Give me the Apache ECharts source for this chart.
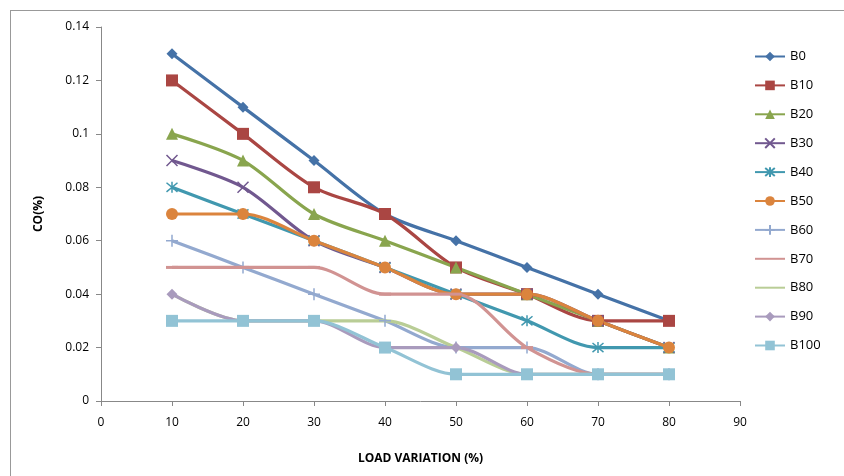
<!DOCTYPE html>
<html>
<head>
<meta charset="utf-8">
<script src="https://cdn.jsdelivr.net/npm/echarts@6/dist/echarts.min.js"></script>
<style>html,body{margin:0;padding:0;background:#fff}#c{width:844px;height:476px}</style>
</head>
<body>
<div id="c"></div>
<script>
var loads = [10, 20, 30, 40, 50, 60, 70, 80];
var seriesNames = ['B0','B10','B20','B30','B40','B50','B60','B70','B80','B90','B100'];
var B0   = [0.13, 0.11, 0.09, 0.07, 0.06, 0.05, 0.04, 0.03];
var B10  = [0.12, 0.10, 0.08, 0.07, 0.05, 0.04, 0.03, 0.03];
var B20  = [0.10, 0.09, 0.07, 0.06, 0.05, 0.04, 0.03, 0.02];
var B30  = [0.09, 0.08, 0.06, 0.05, 0.04, 0.04, 0.03, 0.02];
var B40  = [0.08, 0.07, 0.06, 0.05, 0.04, 0.03, 0.02, 0.02];
var B50  = [0.07, 0.07, 0.06, 0.05, 0.04, 0.04, 0.03, 0.02];
var B60  = [0.06, 0.05, 0.04, 0.03, 0.02, 0.02, 0.01, 0.01];
var B70  = [0.05, 0.05, 0.05, 0.04, 0.04, 0.02, 0.01, 0.01];
var B80  = [0.04, 0.03, 0.03, 0.03, 0.02, 0.01, 0.01, 0.01];
var B90  = [0.04, 0.03, 0.03, 0.02, 0.02, 0.01, 0.01, 0.01];
var B100 = [0.03, 0.03, 0.03, 0.02, 0.01, 0.01, 0.01, 0.01];
var values = [B0,B10,B20,B30,B40,B50,B60,B70,B80,B90,B100];

var colors = ['#4572A7','#AA4643','#89A54E','#71588F','#4198AF','#DB843D','#93A9CF','#D19392','#B9CD96','#A99BBD','#92C3D5'];
var xPath = 'path://M0,0L10,10M10,0L0,10';
var starPath = 'path://M0,0L10,10M10,0L0,10M5,-1L5,11';
var plusPath = 'path://M5,0L5,10M0,5L10,5';
var dashPath = 'path://M0,4L10,4L10,6L0,6Z';
var symbols = ['diamond','rect','triangle',xPath,starPath,'circle',plusPath,dashPath,'none','diamond','rect'];
var sizes = [11,12,12,11,11,12,12,[12,3],10,11,12];
var stroked = [false,false,false,true,true,false,true,false,false,false,false];
var hideLegendMark = [false,false,false,false,false,false,false,true,true,false,false];

var series = seriesNames.map(function(n,i){
  var d = loads.map(function(x,j){ return [x, values[i][j]]; });
  return {
    name: n, type: 'line', data: d, smooth: 0.3,
    symbol: symbols[i], symbolSize: sizes[i],
    lineStyle: {color: colors[i], width: 3.2},
    itemStyle: stroked[i] ? {color: colors[i], borderColor: colors[i], borderWidth: 1.5} : {color: colors[i]}
  };
});

var legends = seriesNames.map(function(n,i){
  var item = hideLegendMark[i] ? {name: n, itemStyle: {opacity: 0}} : {name: n};
  return {
    show: true, orient:'horizontal', left:749, top: 45 + i*28.9,
    itemWidth:30, itemHeight:12, itemGap:5,
    textStyle:{fontFamily:'Open Sans', fontSize:13, color:'#000'},
    data: [item]
  };
});

var chart = echarts.init(document.getElementById('c'), null, {renderer:'canvas'});
chart.setOption({
  animation: false,
  backgroundColor: '#fff',
  graphic: [
    {type:'line', shape:{x1:10,y1:10.5,x2:844,y2:10.5}, style:{stroke:'#999',lineWidth:1}},
    {type:'line', shape:{x1:10.5,y1:10,x2:10.5,y2:476}, style:{stroke:'#999',lineWidth:1}}
  ],
  grid: {left:101, right:104, top:27, bottom:75, containLabel:false},
  legend: legends,
  xAxis: {
    type:'value', min:0, max:90, interval:10,
    name:'LOAD VARIATION (%)', nameLocation:'middle', nameGap:52,
    nameTextStyle:{fontFamily:'Open Sans', fontSize:12, fontWeight:'bold', color:'#000'},
    axisLine:{lineStyle:{color:'#888', width:1}},
    axisTick:{show:true, inside:false, length:5, lineStyle:{color:'#888'}},
    axisLabel:{fontFamily:'Open Sans', fontSize:12, color:'#000', margin:16},
    splitLine:{show:false}
  },
  yAxis: {
    type:'value', min:0, max:0.14, interval:0.02,
    name:'CO(%)', nameLocation:'middle', nameGap:56, nameRotate:90,
    nameTextStyle:{fontFamily:'Open Sans', fontSize:12, fontWeight:'bold', color:'#000'},
    axisLine:{show:true, lineStyle:{color:'#888', width:1}},
    axisTick:{show:true, inside:false, length:5, lineStyle:{color:'#888'}},
    axisLabel:{fontFamily:'Open Sans', fontSize:12, color:'#000', margin:12,
      formatter:function(v){ return String(parseFloat(v.toFixed(2))); }},
    splitLine:{show:false}
  },
  series: series
});
</script>
</body>
</html>
